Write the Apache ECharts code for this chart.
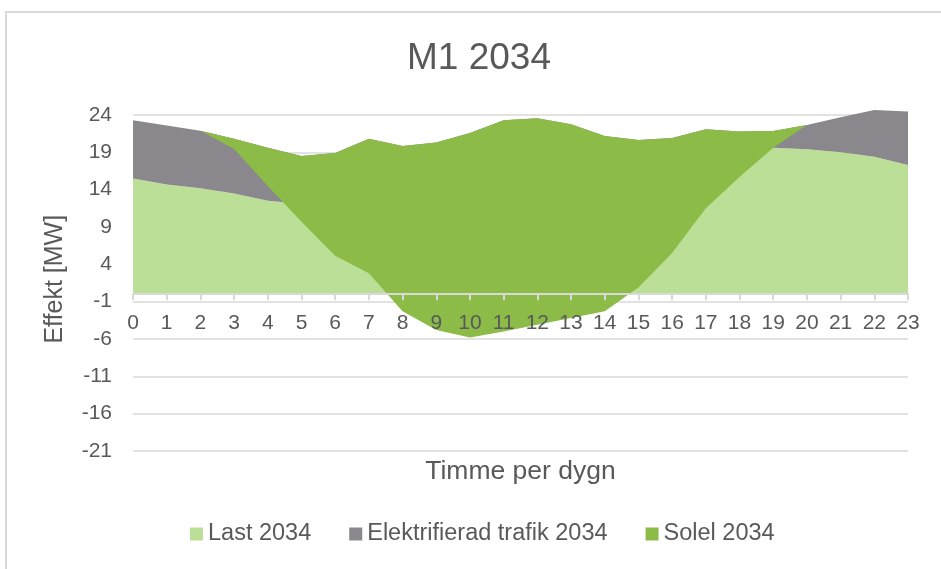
<!DOCTYPE html>
<html>
<head>
<meta charset="utf-8">
<script src="https://cdn.jsdelivr.net/npm/echarts@6/dist/echarts.min.js"></script>
<style>
	html, body { margin: 0; padding: 0; background: #fff; }
	#main { width: 941px; height: 569px; }
</style>
</head>
<body>
<div id="main"></div>
<script>
	// timmar
	var hours = ["0", "1", "2", "3", "4", "5", "6", "7", "8", "9", "10", "11",
		"12", "13", "14", "15", "16", "17", "18", "19", "20", "21", "22", "23"];
	var yTicks = [-21, 25, 5]; // min, max, steg

	// Last 2034 [MW]
	var last = [15.5, 14.7, 14.2, 13.5, 12.5, 12.1, 13.0, 15.5, 15.5, 16.5, 18.0, 19.6,
		19.8, 19.2, 17.8, 17.4, 17.8, 19.2, 19.3, 19.6, 19.4, 19.0, 18.4, 17.3];
	// Elektrifierad trafik 2034 [MW]
	var trafik = [7.8, 7.9, 7.7, 7.3, 7.1, 6.4, 5.9, 5.3, 4.35, 3.8, 3.6, 3.7,
		3.75, 3.55, 3.4, 3.25, 3.1, 2.9, 2.5, 2.25, 3.25, 4.7, 6.25, 7.15];
	// Solel 2034 [MW] (produktion, negativ)
	var solel = [0, 0, 0, -1.35, -5.1, -8.8, -13.75, -18.0, -22.15, -25.1, -27.4, -28.3,
		-27.65, -25.95, -23.5, -19.75, -15.4, -10.6, -6.1, -2.25, 0, 0, 0, 0];

	var txt = '#595959',
		grid_c = '#d9d9d9',
		font = '"Liberation Sans", Arial, sans-serif';

	var gTop = 107.5,
		gBottom = 118,
		gH = 569 - gTop - gBottom;
	// x-axeln ligger vid 0 MW
	var zeroOffset = -gH * (0 - yTicks[0]) / (yTicks[1] - yTicks[0]);

	var myChart = echarts.init(document.getElementById('main'));

	function areaSerie(name, data, color) {
		return {
			name: name,
			type: 'line',
			stack: 'total',
			stackStrategy: 'all',
			symbol: 'none',
			lineStyle: { width: 0 },
			itemStyle: { color: color },
			areaStyle: { color: color, opacity: 1 },
			data: data
		};
	};

	var option = {
		animation: false,
		textStyle: { fontFamily: font },
		title: {
			text: 'M1 2034',
			left: 402,
			top: 35,
			textStyle: { color: txt, fontSize: 37, fontWeight: 'normal', fontFamily: font }
		},
		legend: {
			bottom: 18,
			left: 185,
			icon: 'rect',
			itemWidth: 13,
			itemHeight: 13,
			itemGap: 38,
			textStyle: { color: txt, fontSize: 23.5, fontFamily: font },
			data: ['Last 2034', 'Elektrifierad trafik 2034', 'Solel 2034']
		},
		grid: {
			left: 133,
			right: 33,
			top: gTop,
			bottom: gBottom,
			outerBoundsMode: 'none',
			containLabel: false
		},
		xAxis: [{
			type: 'category',
			boundaryGap: false,
			data: hours,
			z: 3,
			offset: zeroOffset,
			name: 'Timme per dygn',
			nameLocation: 'middle',
			nameGap: 164,
			nameTextStyle: { color: txt, fontSize: 26.5, fontFamily: font },
			axisLine: {
				onZero: false,
				lineStyle: { color: grid_c, width: 2 }
			},
			axisTick: {
				show: true,
				length: 6,
				lineStyle: { color: grid_c, width: 2 }
			},
			axisLabel: {
				interval: 0,
				margin: 19,
				color: txt,
				fontSize: 21,
				fontFamily: font
			},
			splitLine: { show: false }
		}],
		yAxis: [{
			type: 'value',
			min: yTicks[0],
			max: yTicks[1],
			interval: yTicks[2],
			name: 'Effekt [MW]',
			nameLocation: 'middle',
			nameGap: 65,
			nameTextStyle: { color: txt, fontSize: 25, fontFamily: font },
			axisLine: { show: false },
			axisTick: { show: false },
			axisLabel: {
				margin: 21,
				color: txt,
				fontSize: 21,
				fontFamily: font,
				showMaxLabel: false
			},
			splitLine: {
				show: true,
				showMaxLine: false,
				lineStyle: { color: grid_c, width: 1.5 }
			}
		}],
		graphic: [{
			type: 'rect',
			shape: { x: 6, y: 12, width: 960, height: 600 },
			style: { fill: 'none', stroke: grid_c, lineWidth: 2 },
			silent: true
		}],
		series: [
			areaSerie('Last 2034', last, '#bbdf97'),
			areaSerie('Elektrifierad trafik 2034', trafik, '#8a888d'),
			areaSerie('Solel 2034', solel, '#8cbb48')
		]
	};
	myChart.setOption(option);
</script>
</body>
</html>
